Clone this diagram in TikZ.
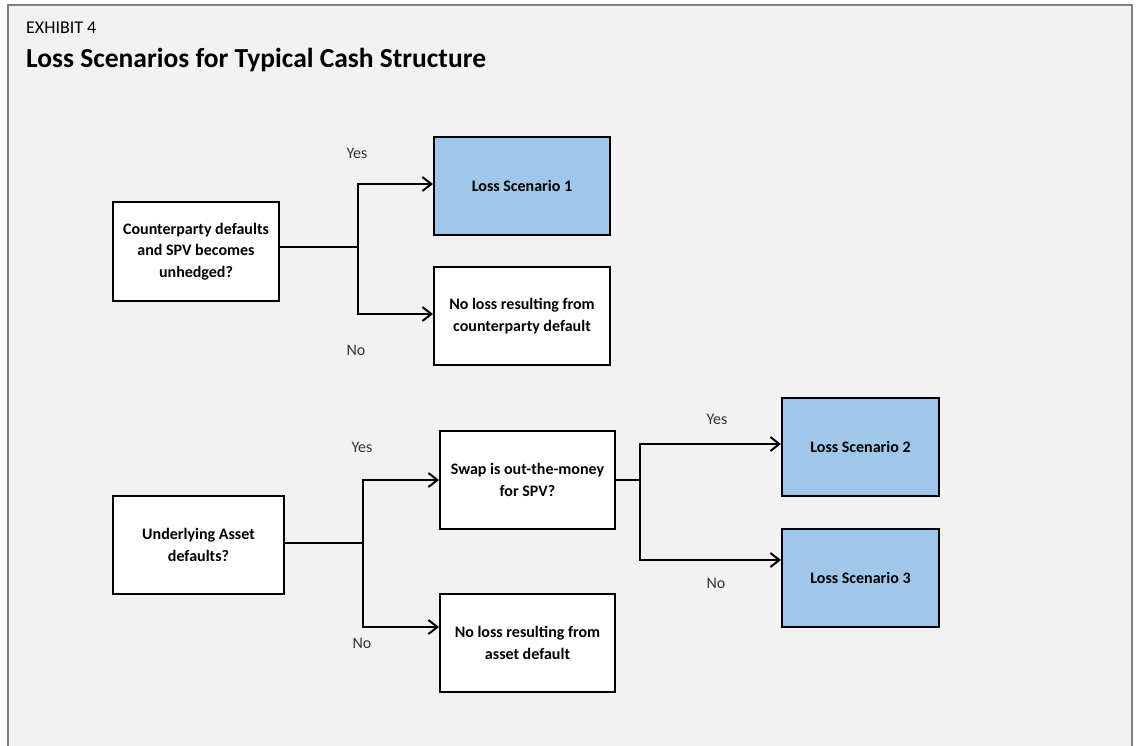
\documentclass[tikz,border=0pt]{standalone}
\usepackage{fontspec}
\setmainfont{Carlito}
\usetikzlibrary{arrows.meta}
\definecolor{bgc}{HTML}{F2F2F2}
\definecolor{framec}{HTML}{808080}
\definecolor{bluec}{HTML}{A0C6EA}
\definecolor{labc}{HTML}{333333}
\begin{document}
\begin{tikzpicture}[x=1pt,y=-1pt,
  box/.style={draw=black,line width=2pt,fill=white,inner sep=0pt,align=center,
    font=\fontsize{16}{21.7}\selectfont\bfseries,anchor=north west},
  bluebox/.style={box,fill=bluec},
  conn/.style={draw=black,line width=2pt},
  arr/.style={conn,-{Straight Barb[length=9pt,width=14pt,line width=2pt]}},
  lab/.style={font=\fontsize{16}{18}\selectfont,text=labc,inner sep=0pt}]
\useasboundingbox (0,0) rectangle (1138,745);
\fill[bgc] (8,5) rectangle (1132,760);
\draw[framec,line width=2pt] (8,760) -- (8,5) -- (1132,5) -- (1132,760);
\node[anchor=base west,inner sep=0pt,font=\fontsize{18}{20}\selectfont] (ex) at (26,33) {EXHIBIT 4};
\node[anchor=base west,inner sep=0pt,font=\fontsize{27.5}{30}\selectfont\bfseries] (title) at (26,67) {Loss Scenarios for Typical Cash Structure};
% top tree
\node[box,minimum width=166pt,minimum height=99pt] (A) at (112,201) {Counterparty defaults\\and SPV becomes\\unhedged?};
\node[bluebox,minimum width=176pt,minimum height=98pt] (L1) at (433,136) {Loss Scenario 1};
\node[box,minimum width=176pt,minimum height=98pt] (N1) at (433,266) {No loss resulting from\\counterparty default};
\coordinate (j1) at ([xshift=78pt,yshift=5pt]A.east);
\draw[conn] ([yshift=5pt]A.east) -- (j1);
\draw[arr] (j1) |- ([yshift=2pt]L1.west);
\draw[arr] (j1) |- ([yshift=2pt]N1.west);
\node[lab] (y1) at (357,153) {Yes};
\node[lab] (n1) at (356,350) {No};
% bottom tree
\node[box,minimum width=171pt,minimum height=98pt] (B) at (112,495) {Underlying Asset\\defaults?};
\node[box,minimum width=175pt,minimum height=98pt] (S) at (439,430) {Swap is out-the-money\\for SPV?};
\node[box,minimum width=175pt,minimum height=98pt] (N2) at (439,593) {No loss resulting from\\asset default};
\coordinate (j2) at ([xshift=78pt,yshift=2pt]B.east);
\draw[conn] ([yshift=2pt]B.east) -- (j2);
\draw[arr] (j2) |- (S.west);
\draw[arr] (j2) |- ([yshift=16pt]N2.west);
\node[lab] (y2) at (362,447) {Yes};
\node[lab] (n2) at (362,643) {No};
\node[bluebox,minimum width=157pt,minimum height=98pt] (L2) at (781,397) {Loss Scenario 2};
\node[bluebox,minimum width=157pt,minimum height=98pt] (L3) at (781,528) {Loss Scenario 3};
\coordinate (j3) at ([xshift=24pt]S.east);
\draw[conn] (S.east) -- (j3);
\draw[arr] (j3) |- ([yshift=3pt]L2.west);
\draw[arr] (j3) |- ([yshift=18pt]L3.west);
\node[lab] (y3) at (717,419) {Yes};
\node[lab] (n3) at (716,583) {No};
\end{tikzpicture}
\end{document}
